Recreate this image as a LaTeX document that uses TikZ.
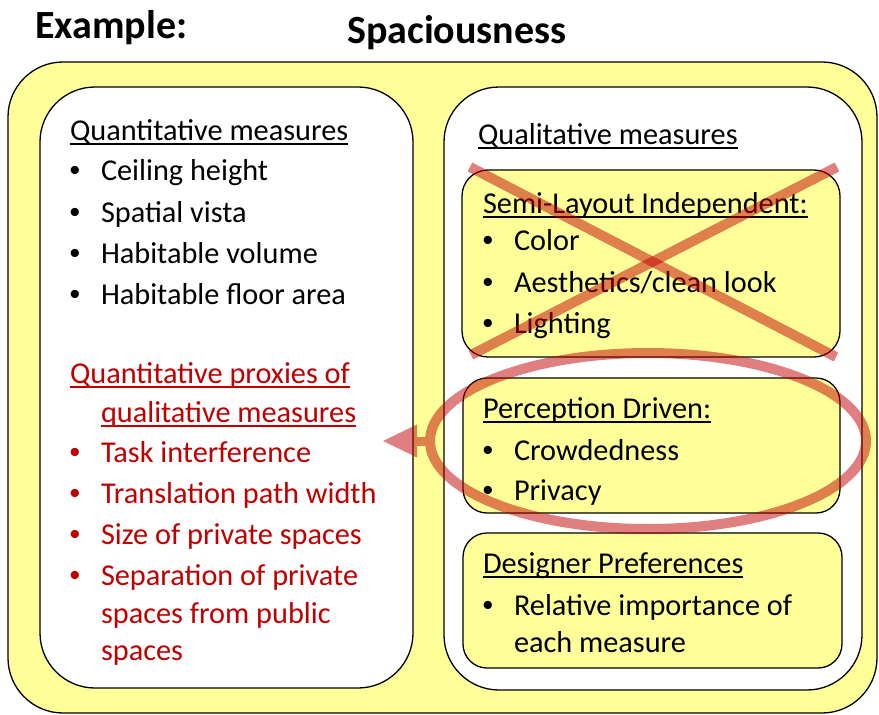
\documentclass[tikz,border=0pt]{standalone}
\usepackage{fontspec}
\setmainfont{Carlito}
\newfontfamily\arialf{Liberation Sans}
\usetikzlibrary{shapes.geometric,arrows.meta}
\definecolor{myyellow}{RGB}{255,255,153}
\definecolor{myred}{RGB}{192,0,0}
\newsavebox{\ulbox}
\newcommand{\ulin}[1]{\sbox{\ulbox}{#1}\rlap{\rule[-4.5pt]{\wd\ulbox}{1.5pt}}\usebox{\ulbox}}
\newcommand{\bul}{\makebox[33pt][l]{\hspace{1.5pt}{\arialf •}}}
\tikzset{
  frame/.style={draw=black, line width=1.3pt, rounded corners=#1, anchor=north west,
    inner sep=0pt, outer sep=0pt, rectangle},
  txt/.style={anchor=base west, inner sep=0pt, outer sep=0pt, font=\fontsize{30.3pt}{36pt}\selectfont},
  rtxt/.style={txt, text=myred},
  ttl/.style={anchor=base west, inner sep=0pt, font=\fontsize{40pt}{48pt}\selectfont\bfseries},
  strike/.style={line width=10pt, draw=myred, draw opacity=0.5},
}
\begin{document}
\begin{tikzpicture}[x=1pt,y=-1pt]
\useasboundingbox (0,0) rectangle (879,715);
\fill[white] (0,0) rectangle (879,715);

% titles
\node[ttl] (ex) at (35,38) {Example:};
\node[ttl] (sp) at (347,43) {Spaciousness};

% frames
\node[frame=55pt, fill=myyellow, minimum width=869pt, minimum height=651pt] (outer) at (8,62) {};
\node[frame=55pt, fill=white, minimum width=373pt, minimum height=601pt] (left) at (40,87) {};
\node[frame=55pt, fill=white, minimum width=418pt, minimum height=603pt] (right) at (444,87) {};
\node[frame=26pt, fill=myyellow, minimum width=378pt, minimum height=187pt] (semi) at (462,170) {};
\node[frame=24pt, fill=myyellow, minimum width=377pt, minimum height=135pt] (perc) at (463,378) {};
\node[frame=24pt, fill=myyellow, minimum width=379pt, minimum height=135pt] (desg) at (463,533) {};

% left box text
\node[txt] (q0) at (70,140) {\ulin{Quantitative measures}};
\node[txt] (q1) at (68,180) {\bul Ceiling height};
\node[txt] (q2) at (68,222) {\bul Spatial vista};
\node[txt] (q3) at (68,263) {\bul Habitable volume};
\node[txt] (q4) at (68,304) {\bul Habitable floor area};

\node[rtxt] (p0) at (70,383) {\ulin{Quantitative proxies of}};
\node[rtxt] (p0b) at (101,422) {\ulin{qualitative measures}};
\node[rtxt] (p1) at (68,462) {\bul Task interference};
\node[rtxt] (p2) at (68,503) {\bul Translation path width};
\node[rtxt] (p3) at (68,544) {\bul Size of private spaces};
\node[rtxt] (p4) at (68,585) {\bul Separation of private};
\node[rtxt] (p4b) at (101,623) {spaces from public};
\node[rtxt] (p4c) at (101,660) {spaces};

% right box text
\node[txt] (r0) at (478,144) {\ulin{Qualitative measures}};
\node[txt] (s0) at (483,213) {\ulin{Semi-Layout Independent:}};
\node[txt] (s1) at (481,250) {\bul Color};
\node[txt] (s2) at (481,292) {\bul Aesthetics/clean look};
\node[txt] (s3) at (481,333) {\bul Lighting};

\node[txt] (c0) at (483,418) {\ulin{Perception Driven:}};
\node[txt] (c1) at (481,460) {\bul Crowdedness};
\node[txt] (c2) at (481,500) {\bul Privacy};

\node[txt] (d0) at (483,573) {\ulin{Designer Preferences}};
\node[txt] (d1) at (481,615) {\bul Relative importance of};
\node[txt] (d1b) at (514,652) {each measure};

% cross over the semi-layout box
\coordinate (xa) at (470,167);
\coordinate (xb) at (836,357);
\coordinate (xc) at (837,167);
\coordinate (xd) at (471,355);
\draw[strike] (xa) -- (xb);
\draw[strike] (xc) -- (xd);

% ellipse around perception box and arrow to the proxies
\node[ellipse, draw=myred, draw opacity=0.5, line width=10pt, inner sep=0pt,
      minimum width=436pt, minimum height=176pt] (ell) at (648,441) {};
\coordinate (tip) at (383,441);
\draw[line width=9pt, draw=myred, opacity=0.5,
      -{Triangle[length=34pt,width=33pt,line width=0pt]}] (ell.west) -- (tip);
\end{tikzpicture}
\end{document}
